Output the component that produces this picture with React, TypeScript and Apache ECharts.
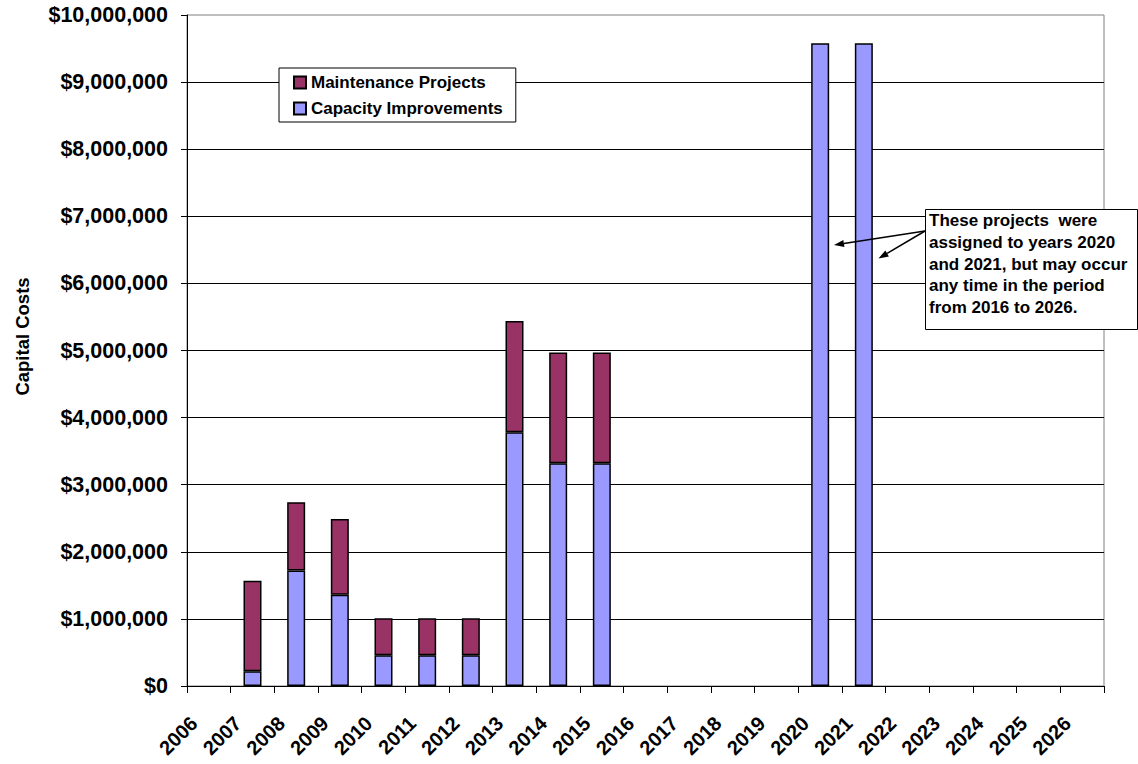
import React, { useEffect, useRef } from 'react';
import * as echarts from 'echarts';

const years = [
  '2006', '2007', '2008', '2009', '2010', '2011', '2012', '2013', '2014', '2015', '2016',
  '2017', '2018', '2019', '2020', '2021', '2022', '2023', '2024', '2025', '2026',
];

const capacityImprovements = [
  null, 220000, 1720000, 1360000, 460000, 460000, 460000, 3780000, 3320000, 3320000, null,
  null, null, null, 9580000, 9580000, null, null, null, null, null,
];

const maintenanceProjects = [
  null, 1350000, 1020000, 1130000, 550000, 550000, 550000, 1660000, 1650000, 1650000, null,
  null, null, null, null, null, null, null, null, null, null,
];

const yMin = 0;
const yMax = 10000000;
const yInterval = 1000000;

const noteLines = [
  'These projects  were',
  'assigned to years 2020',
  'and 2021, but may occur',
  'any time in the period',
  'from 2016 to 2026.',
];

const FONT = '"Liberation Sans", Arial, Helvetica, sans-serif';

function arrow(x1: number, y1: number, x2: number, y2: number) {
  const dx = x2 - x1;
  const dy = y2 - y1;
  const len = Math.sqrt(dx * dx + dy * dy);
  const ux = dx / len;
  const uy = dy / len;
  const headLen = 10;
  const headHalf = 3.5;
  const bx = x2 - ux * headLen;
  const by = y2 - uy * headLen;
  const px = -uy;
  const py = ux;
  return [
    {
      type: 'line',
      shape: { x1, y1, x2: bx, y2: by },
      style: { stroke: '#000', lineWidth: 1.5 },
      z: 100,
    },
    {
      type: 'polygon',
      shape: {
        points: [
          [x2, y2],
          [bx + px * headHalf, by + py * headHalf],
          [bx - px * headHalf, by - py * headHalf],
        ],
      },
      style: { fill: '#000' },
      z: 100,
    },
  ];
}

export default function App() {
  const ref = useRef<HTMLDivElement>(null);

  useEffect(() => {
    if (!ref.current) return;
    const chart = echarts.init(ref.current, undefined, { renderer: 'svg' });
    chart.setOption({
      animation: false,
      backgroundColor: '#fff',
      textStyle: { fontFamily: FONT },
      grid: {
        left: 187,
        right: 34,
        top: 15,
        bottom: 78,
        show: true,
        borderColor: '#808080',
        borderWidth: 1,
        containLabel: false,
      },
      legend: {
        orient: 'vertical',
        left: 279,
        top: 68,
        padding: [6, 13, 5, 14],
        itemGap: 9,
        itemWidth: 12,
        itemHeight: 12,
        icon: 'rect',
        backgroundColor: '#fff',
        borderColor: '#000',
        borderWidth: 1,
        data: ['Maintenance Projects', 'Capacity Improvements'],
        textStyle: { fontFamily: FONT, fontSize: 17, fontWeight: 'bold', color: '#000' },
      },
      xAxis: {
        type: 'category',
        data: years,
        boundaryGap: true,
        axisLine: { show: true, lineStyle: { color: '#000', width: 1 } },
        axisTick: { show: true, length: 7, lineStyle: { color: '#000' } },
        axisLabel: {
          interval: 0,
          rotate: 45,
          margin: 19,
          padding: [0, 21, 0, 0],
          fontFamily: FONT,
          fontSize: 20,
          fontWeight: 'bold',
          color: '#000',
        },
        splitLine: { show: false },
      },
      yAxis: {
        type: 'value',
        min: yMin,
        max: yMax,
        interval: yInterval,
        axisLine: { show: true, lineStyle: { color: '#000', width: 1 } },
        axisTick: { show: true, length: 6, lineStyle: { color: '#000' } },
        axisLabel: {
          margin: 19,
          fontFamily: FONT,
          fontSize: 21.5,
          fontWeight: 'bold',
          color: '#000',
          formatter: (v: number) => '$' + v.toLocaleString('en-US'),
        },
        splitLine: { show: true, showMaxLine: false, lineStyle: { color: '#000', width: 1 } },
      },
      series: [
        {
          name: 'Capacity Improvements',
          type: 'bar',
          stack: 'costs',
          data: capacityImprovements,
          barWidth: 18,
          itemStyle: { color: '#9999FF', borderColor: '#000', borderWidth: 1.5 },
        },
        {
          name: 'Maintenance Projects',
          type: 'bar',
          stack: 'costs',
          data: maintenanceProjects,
          barWidth: 18,
          itemStyle: { color: '#993366', borderColor: '#000', borderWidth: 1.5 },
        },
      ],
      graphic: [
        {
          type: 'text',
          x: 22.5,
          y: 336.5,
          rotation: Math.PI / 2,
          style: {
            text: 'Capital Costs',
            fontFamily: FONT,
            fontSize: 18.5,
            fontWeight: 'bold',
            fill: '#000',
            align: 'center',
            verticalAlign: 'middle',
          },
        },
        ...arrow(925, 231, 834, 245),
        ...arrow(925, 231, 878.5, 258.5),
        {
          type: 'rect',
          shape: { x: 925.5, y: 209.5, width: 212, height: 120 },
          style: { fill: '#fff', stroke: '#000', lineWidth: 1 },
          z: 101,
        },
        {
          type: 'text',
          x: 929,
          y: 210,
          z: 102,
          style: {
            text: noteLines.join('\n'),
            fontFamily: FONT,
            fontSize: 17,
            fontWeight: 'bold',
            lineHeight: 21.6,
            fill: '#000',
            align: 'left',
            verticalAlign: 'top',
          },
        },
      ],
    });
    return () => chart.dispose();
  }, []);

  return (
    <div
      ref={ref}
      style={{ position: 'absolute', left: 0, top: 0, width: 1138, height: 764 }}
    />
  );
}
